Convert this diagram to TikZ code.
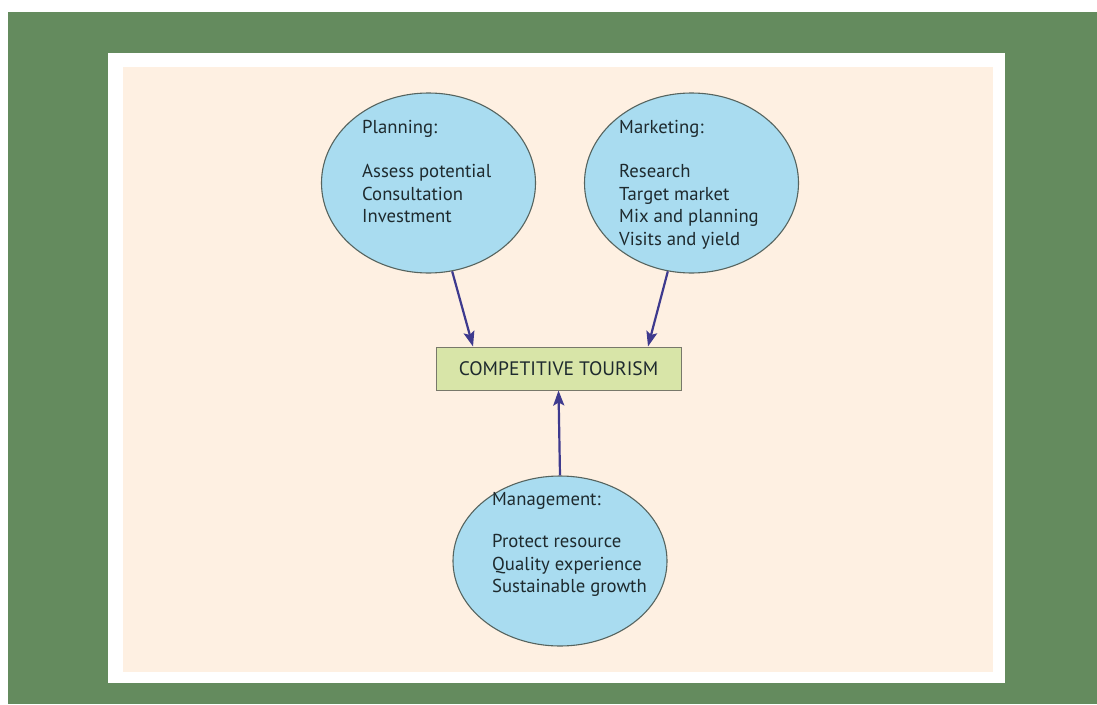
\documentclass[tikz,border=0pt]{standalone}
\usepackage{fontspec}
\setmainfont{PT Sans}
\usetikzlibrary{arrows.meta,shapes.geometric}
\definecolor{bggreen}{HTML}{648B5E}
\definecolor{beige}{HTML}{FEF0E2}
\definecolor{circfill}{HTML}{A9DCF0}
\definecolor{circline}{HTML}{56645F}
\definecolor{boxfill}{HTML}{D8E5A8}
\definecolor{boxline}{HTML}{78786A}
\definecolor{arrowc}{HTML}{3E3A8E}
\definecolor{txt}{HTML}{1E2A2E}
\tikzset{
  bubble/.style={ellipse, draw=circline, line width=1.1pt, fill=circfill, minimum width=214pt, minimum height=180pt, inner sep=0pt},
  bubbletext/.style={anchor=north west, inner sep=0pt, align=left, text=txt, font=\fontsize{18.7}{22.5}\selectfont},
  goalbox/.style={rectangle, draw=boxline, line width=1pt, fill=boxfill, minimum width=245pt, minimum height=43pt, inner sep=0pt, text=txt, font=\fontsize{19.5}{20}\selectfont},
  flow/.style={draw=arrowc, line width=2.2pt, -{Stealth[length=15pt,width=11pt,inset=3pt]}}
}
\begin{document}
\begin{tikzpicture}[x=1pt,y=-1pt]
\useasboundingbox (0,0) rectangle (1097,704);
\fill[white] (0,0) rectangle (1097,704);
\fill[bggreen] (8,12) rectangle (1097,704);
\fill[white] (108,53) rectangle (1005,683);
\fill[beige] (123,67) rectangle (993,672);

\node[bubble] (plan) at (428.5,183) {};
\node[bubble] (mark) at (691.5,183) {};
\node[bubble, minimum height=170pt] (mgmt) at (560,561) {};

\node[bubbletext] (plantext) at (362,120) {Planning:\\[22pt]Assess potential\\Consultation\\Investment};
\node[bubbletext] (marktext) at (619,120) {Marketing:\\[22pt]Research\\Target market\\Mix and planning\\Visits and yield};
\node[bubbletext] (mgmttext) at (492,492) {Management:\\[20pt]Protect resource\\Quality experience\\Sustainable growth};

\node[goalbox] (box) at (558.5,368.5) {COMPETITIVE TOURISM};

\draw[flow] (plan.-75) -- ([xshift=-85.5pt]box.north);
\draw[flow] (mark.-105) -- ([xshift=89.5pt]box.north);
\draw[flow] (mgmt.north) -- (box.south);
\end{tikzpicture}
\end{document}
